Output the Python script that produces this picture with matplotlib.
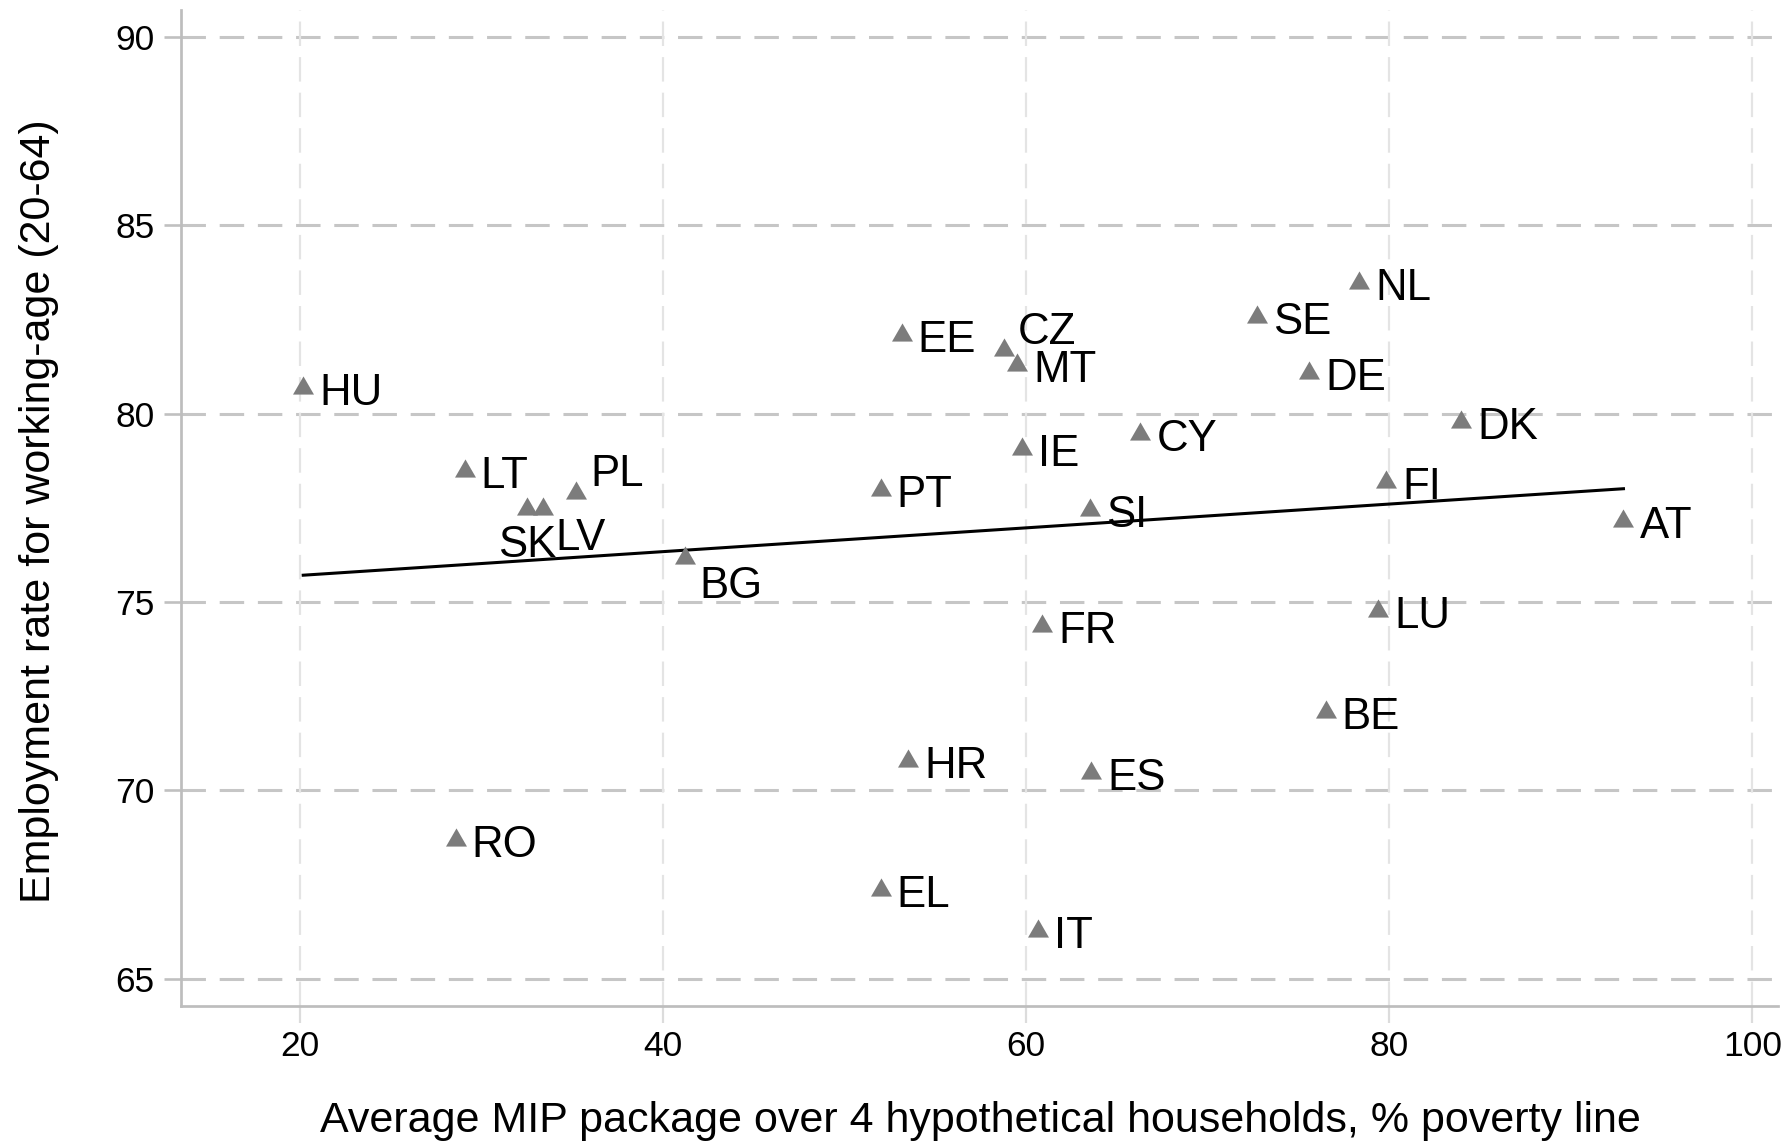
import numpy as np
import matplotlib.pyplot as plt

plt.rcParams['font.family'] = ['Liberation Sans', 'DejaVu Sans']

# Country codes, MIP package (% poverty line) and employment rate 20-64
countries = ['HU', 'LT', 'SK', 'LV', 'PL', 'BG', 'PT', 'EE', 'HR', 'EL',
             'RO', 'IE', 'CZ', 'MT', 'FR', 'IT', 'SI', 'ES', 'CY', 'SE',
             'DE', 'NL', 'FI', 'LU', 'BE', 'DK', 'AT']
mip = [20.2, 29.1, 32.5, 33.4, 35.2, 41.2, 52.0, 53.15, 53.5, 52.0,
       28.6, 59.8, 58.8, 59.5, 60.9, 60.65, 63.5, 63.6, 66.3, 72.7,
       75.6, 78.35, 79.85, 79.4, 76.5, 83.95, 92.9]
emp = [80.75, 78.55, 77.55, 77.55, 77.96, 76.25, 78.06, 82.18, 70.85, 67.44,
       68.77, 79.15, 81.78, 81.38, 74.43, 66.35, 77.53, 70.54, 79.55, 82.65,
       81.15, 83.54, 78.26, 74.85, 72.16, 79.86, 77.24]

x_ticks = [20, 40, 60, 80, 100]
y_ticks = [65, 70, 75, 80, 85, 90]

# label offsets in pixels (x, baseline y) and alignment; default is to the right
label_pos = {
    'SK': (1, -51, 'center'),
    'LV': (12, -44, 'left'),
    'BG': (15, -43, 'left'),
    'CZ': (14, 2.5, 'left'),
    'PL': (15, 4, 'left'),
}

fig = plt.figure(figsize=(17.87, 11.42), dpi=100)
ax = fig.add_axes([181 / 1787, 136 / 1142, 1597 / 1787, 996 / 1142])

ax.set_xlim(13.47, 101.41)
ax.set_ylim(64.27, 90.72)

# grid
for yv in y_ticks:
    ax.axhline(yv, color='#c6c6c6', lw=2.2, linestyle=(0, (8, 4.5)), zorder=1)
for xv in x_ticks:
    ax.axvline(xv, color='#e4e4e4', lw=1.6, linestyle=(0, (11, 5)), zorder=1)

# equilateral triangle marker
tri = [(0, 0.866), (-1, -0.866), (1, -0.866), (0, 0.866)]
ax.plot(mip, emp, linestyle='none', marker=tri, markersize=15.1,
        color='#7c7c7c', markeredgewidth=0, zorder=3)

# linear fit
b, a = np.polyfit(mip, emp, 1)
xf = np.array([min(mip), max(mip)])
ax.plot(xf, a + b * xf, color='black', lw=2.2, zorder=2)

for c, xv, yv in zip(countries, mip, emp):
    dx, dy, ha = label_pos.get(c, (16, -20, 'left'))
    ax.annotate(c, (xv, yv), xytext=(dx, dy), textcoords='offset pixels',
                ha=ha, va='baseline', fontsize=31.5, color='black', zorder=4)

ax.set_xticks(x_ticks)
ax.set_yticks(y_ticks)
ax.tick_params(axis='y', length=12.2, width=1.9, color='#c0c0c0', pad=7,
               labelsize=25.5)
ax.tick_params(axis='x', length=12.2, width=1.6, color='#dcdcdc', pad=5,
               labelsize=25.5)

for side in ['top', 'right']:
    ax.spines[side].set_visible(False)
for side in ['left', 'bottom']:
    ax.spines[side].set_color('#bdbdbd')
    ax.spines[side].set_linewidth(1.95)

fig.text(50 / 1787, 630.5 / 1142, 'Employment rate for working-age (20-64)',
         rotation=90, rotation_mode='anchor', ha='center', va='baseline',
         fontsize=31)
fig.text(980.7 / 1787, 10.3 / 1142,
         'Average MIP package over 4 hypothetical households, % poverty line',
         ha='center', va='baseline', fontsize=31)

fig.savefig('out.png', dpi=100, facecolor='white')
